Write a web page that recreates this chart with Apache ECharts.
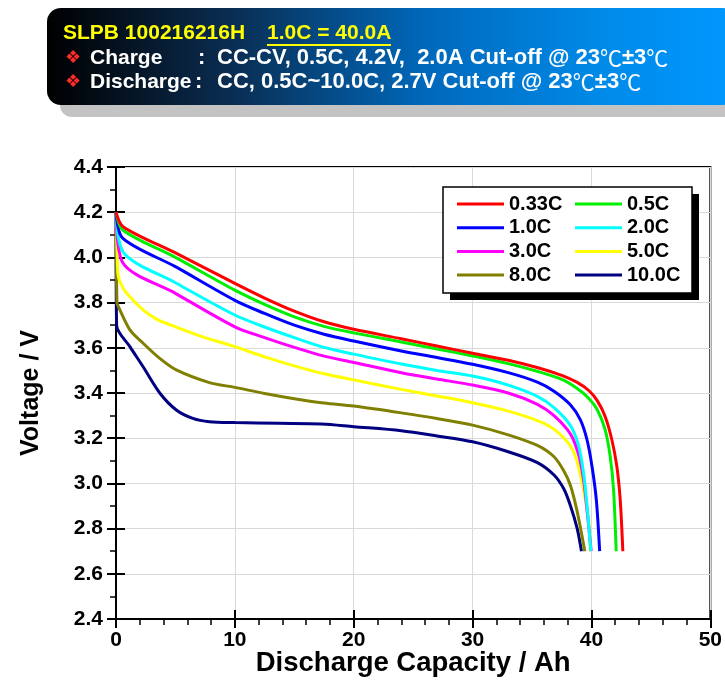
<!DOCTYPE html>
<html><head><meta charset="utf-8">
<script src="https://cdn.jsdelivr.net/npm/echarts@6/dist/echarts.min.js"></script>
<style>html,body{margin:0;padding:0;background:#fff}#c{width:725px;height:700px}</style>
</head><body><div id="c"></div>
<script>
// ---- data (capacity Ah, voltage V) ----
const rateNames = ['0.33C','0.5C','1.0C','2.0C','3.0C','5.0C','8.0C','10.0C'];
const rateColors = ['#ff0000','#00ee00','#0000ff','#00ffff','#ff00ff','#ffff00','#808000','#000080'];

const c033 = [[0,4.2],[0.6,4.136],[5,4.02],[10,3.885],[12.5,3.82],[15,3.762],[17.5,3.715],[20,3.682],[24,3.64],[27,3.608],[30,3.576],[33,3.545],[35.5,3.512],[37.5,3.478],[38.8,3.447],[39.8,3.41],[40.5,3.365],[41.16,3.295],[41.72,3.192],[42.14,3.074],[42.42,2.927],[42.64,2.70]];
const c05 = [[0,4.2],[0.6,4.12],[5,4.0],[10,3.855],[12.5,3.792],[15,3.737],[17.5,3.695],[20,3.666],[24,3.626],[27,3.595],[30,3.564],[33,3.53],[35.5,3.495],[37.5,3.46],[38.8,3.42],[39.7,3.38],[40.5,3.325],[41.16,3.236],[41.58,3.118],[41.86,2.971],[42.08,2.70]];
const c10 = [[0,4.2],[0.56,4.085],[5,3.959],[10,3.81],[12.5,3.752],[15,3.70],[17.5,3.66],[20,3.63],[24,3.586],[27,3.557],[30,3.527],[33,3.49],[35.45,3.448],[36.85,3.408],[38.24,3.347],[39.07,3.281],[39.63,3.192],[40.05,3.074],[40.41,2.927],[40.69,2.70]];
const c20 = [[0,4.2],[0.67,4.018],[5,3.888],[10,3.745],[12.5,3.692],[15,3.645],[17.5,3.602],[20,3.572],[24,3.528],[27,3.50],[30,3.475],[33,3.435],[35.45,3.385],[36.85,3.335],[38.24,3.255],[38.93,3.165],[39.35,3.04],[39.63,2.90],[39.95,2.70]];
const c30 = [[0,4.2],[0.6,3.974],[5,3.841],[10,3.693],[12.5,3.645],[15,3.602],[17.5,3.563],[20,3.535],[24,3.49],[27,3.462],[30,3.435],[33,3.40],[35.45,3.35],[36.85,3.30],[38.24,3.218],[38.93,3.125],[39.35,3.01],[39.63,2.88],[39.98,2.70]];
const c50 = [[0,4.2],[0.1,4.02],[0.2,3.915],[0.6,3.864],[1.17,3.826],[2.3,3.767],[3.5,3.725],[5,3.693],[7.5,3.645],[10,3.605],[12.5,3.56],[15,3.52],[17.5,3.485],[20,3.458],[24,3.416],[27,3.387],[30,3.357],[33,3.32],[35.45,3.278],[36.9,3.238],[38.24,3.165],[38.8,3.095],[39.35,2.965],[39.77,2.83],[39.9,2.70]];
const c80 = [[0,4.2],[0.08,3.8],[0.2,3.782],[1.17,3.679],[2.28,3.62],[3.68,3.553],[5.07,3.502],[7.86,3.446],[10,3.425],[12.5,3.398],[15,3.375],[17.5,3.356],[20,3.342],[24,3.312],[27,3.287],[30,3.258],[33,3.215],[35.45,3.168],[36.85,3.118],[37.68,3.055],[38.24,2.99],[38.8,2.875],[39.44,2.70]];
const c100 = [[0,4.2],[0.05,3.70],[1.17,3.605],[2.28,3.516],[3.68,3.40],[5.07,3.325],[6.46,3.288],[7.86,3.273],[10,3.269],[13.7,3.266],[17.3,3.263],[20,3.251],[24,3.233],[27,3.21],[30,3.184],[33,3.14],[35.45,3.092],[36.85,3.037],[37.68,2.975],[38.24,2.90],[38.8,2.80],[39.16,2.70]];

const xTicks = [0,10,20,30,40,50];
const yTicks = [2.4,2.6,2.8,3.0,3.2,3.4,3.6,3.8,4.0,4.2,4.4];

const titleLine1a = 'SLPB 100216216H';
const titleLine1b = '1.0C = 40.0A';
const chargeLabel = 'Charge';
const chargeText = 'CC-CV, 0.5C, 4.2V,  2.0A Cut-off @ 23{c|℃}±3{c|℃}';
const dischargeLabel = 'Discharge';
const dischargeText = 'CC, 0.5C~10.0C, 2.7V Cut-off @ 23{c|℃}±3{c|℃}';

// ---- chart ----
const FONT = "'Liberation Sans', Arial, Helvetica, sans-serif";
const allData = [c033,c05,c10,c20,c30,c50,c80,c100];
const chart = echarts.init(document.getElementById('c'));

const series = rateNames.map((n,i)=>({
  name:n, type:'line', data:allData[i], symbol:'none', showSymbol:false,
  smooth:0.3, z: 10 - i * 0.5,
  lineStyle:{width:3,color:rateColors[i]}, itemStyle:{color:rateColors[i]}
}));

const lblStyle = {fontSize:21,fontWeight:'bold',color:'#000',fontFamily:FONT};
const tickStyle = {color:'#000',width:2};
const G = {left:116, top:167, width:598, height:452};

const legendBase = {
  orient:'vertical', top:194, padding:0, icon:'rect', itemWidth:47, itemHeight:3, itemGap:3.7,
  textStyle:{fontSize:20,fontWeight:'bold',color:'#000',fontFamily:FONT,lineHeight:20},
  z:20, selectedMode:false
};

const headFont1 = 'bold 21px ' + FONT;
const headFont = 'bold 21px ' + FONT;
const valFont = 'bold 22px ' + FONT;
const richC = {c:{fontFamily:"'Noto Sans CJK SC'", fontWeight:'normal', fontSize:22, fill:'#fff'}};

const option = {
  animation:false,
  backgroundColor:'#fff',
  grid:{...G, show:true, borderColor:'#000', borderWidth:2, backgroundColor:'transparent'},
  xAxis:[{
    type:'value', min:xTicks[0], max:xTicks[xTicks.length-1], interval:xTicks[1]-xTicks[0], position:'bottom',
    axisLine:{show:true,lineStyle:{color:'#000',width:2}},
    axisTick:{show:true,length:9,lineStyle:tickStyle},
    minorTick:{show:true,splitNumber:5,length:6,lineStyle:{color:'#000',width:1.5}},
    axisLabel:{...lblStyle, margin:11},
    splitLine:{show:true,lineStyle:{color:'#d9d9d9',width:1}},
    name:'Discharge Capacity / Ah', nameLocation:'middle', nameGap:30, nameMoveOverlap:false,
    nameTextStyle:{fontSize:27.5,fontWeight:'bold',color:'#000',fontFamily:FONT}
  },{
    type:'value', min:xTicks[0], max:xTicks[xTicks.length-1], interval:xTicks[1]-xTicks[0], position:'bottom',
    axisLine:{show:false}, axisTick:{show:true,inside:true,length:9,lineStyle:tickStyle},
    axisLabel:{show:false}, splitLine:{show:false}
  }],
  yAxis:[{
    type:'value', min:yTicks[0], max:yTicks[yTicks.length-1], interval:0.2, position:'left',
    axisLine:{show:true,lineStyle:{color:'#000',width:2}},
    axisTick:{show:true,length:9,lineStyle:tickStyle},
    minorTick:{show:true,splitNumber:2,length:6,lineStyle:{color:'#000',width:1.5}},
    axisLabel:{...lblStyle, margin:13, formatter:v=>v.toFixed(1)},
    splitLine:{show:true,lineStyle:{color:'#d9d9d9',width:1}},
    name:'Voltage / V', nameLocation:'middle', nameGap:72, nameRotate:90, nameMoveOverlap:false,
    nameTextStyle:{fontSize:25,fontWeight:'bold',color:'#000',fontFamily:FONT}
  },{
    type:'value', min:yTicks[0], max:yTicks[yTicks.length-1], interval:0.2, position:'left',
    axisLine:{show:false}, axisTick:{show:true,inside:true,length:9,lineStyle:tickStyle},
    axisLabel:{show:false}, splitLine:{show:false}
  }],
  legend:[
    {...legendBase, left:457, data:[rateNames[0],rateNames[2],rateNames[4],rateNames[6]]},
    {...legendBase, left:575, data:[rateNames[1],rateNames[3],rateNames[5],rateNames[7]]}
  ],
  graphic:[
    {type:'rect', z:1, shape:{x:60,y:20,width:680,height:97,r:12}, style:{fill:'#c3c3c3'}},
    {type:'rect', z:2, shape:{x:47,y:8,width:690,height:97,r:14},
      style:{fill:new echarts.graphic.LinearGradient(0,0,1,0,[
        {offset:0,color:'#000000'},{offset:0.25,color:'#0a2a4c'},{offset:0.55,color:'#0068bb'},{offset:0.8,color:'#008ae8'},{offset:1,color:'#0098ff'}])}},
    {type:'text', z:3, x:63, y:33, style:{text:titleLine1a, fill:'#ffff00', font:headFont1, verticalAlign:'middle'}},
    {type:'text', z:3, x:267, y:33, style:{text:titleLine1b, fill:'#ffff00', font:headFont1, verticalAlign:'middle'}},
    {type:'line', z:3, shape:{x1:267,y1:45,x2:391,y2:45}, style:{stroke:'#ffff00',lineWidth:2}},
    {type:'text', z:3, x:65, y:58, style:{text:'❖', fill:'#ff2a2a', font:'18px DejaVu Sans', verticalAlign:'middle'}},
    {type:'text', z:3, x:65, y:82, style:{text:'❖', fill:'#ff2a2a', font:'18px DejaVu Sans', verticalAlign:'middle'}},
    {type:'text', z:3, x:90, y:58, style:{text:chargeLabel, fill:'#fff', font:headFont, verticalAlign:'middle'}},
    {type:'text', z:3, x:198, y:58, style:{text:':', fill:'#fff', font:valFont, verticalAlign:'middle'}},
    {type:'text', z:3, x:217, y:58, style:{text:chargeText, fill:'#fff', font:valFont, verticalAlign:'middle', rich:richC}},
    {type:'text', z:3, x:90, y:82, style:{text:dischargeLabel, fill:'#fff', font:headFont, verticalAlign:'middle'}},
    {type:'text', z:3, x:195, y:82, style:{text:':', fill:'#fff', font:valFont, verticalAlign:'middle'}},
    {type:'text', z:3, x:217, y:82, style:{text:dischargeText, fill:'#fff', font:valFont, verticalAlign:'middle', rich:richC}},
    {type:'rect', z:15, shape:{x:450,y:194,width:249,height:106}, style:{fill:'#000'}},
    {type:'rect', z:16, shape:{x:443,y:187,width:249,height:106}, style:{fill:'#fff',stroke:'#000',lineWidth:1.5}}
  ],
  series
};
chart.setOption(option);
</script>
</body></html>
